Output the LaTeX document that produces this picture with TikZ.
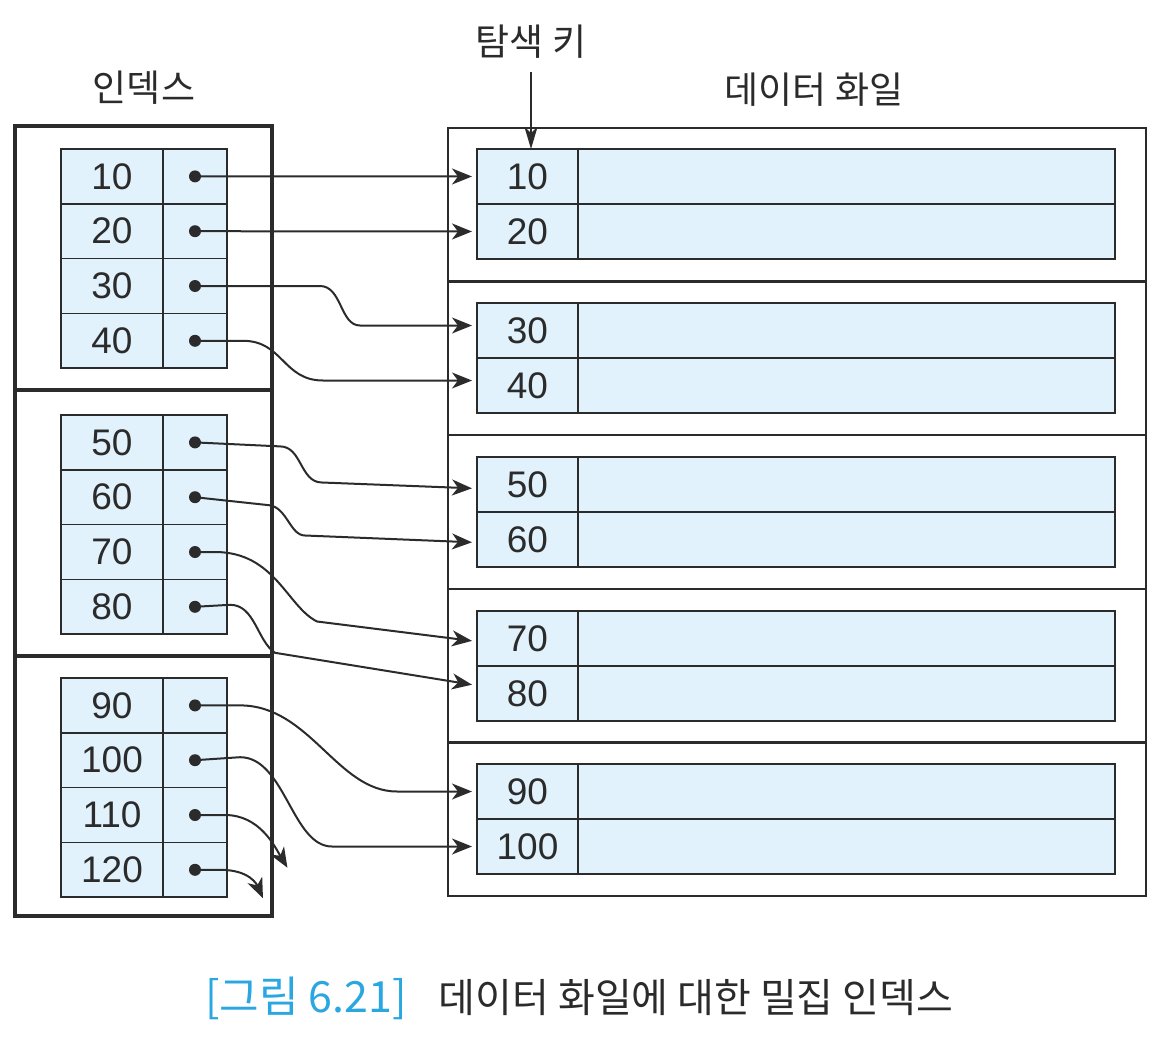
\documentclass[tikz,border=0pt]{standalone}
\usepackage{fontspec}
\setmainfont{Liberation Sans}
\newfontfamily\kr{Noto Sans CJK KR}
\usetikzlibrary{arrows.meta,positioning,calc}
\definecolor{cellfill}{HTML}{E1F2FC}
\definecolor{ink}{HTML}{2B2B2B}
\definecolor{figblue}{HTML}{2AA7E1}
\tikzset{
  keycell/.style={draw=ink, fill=cellfill, line width=0.8pt, inner sep=0pt,
                  outer sep=0pt, minimum height=27.4pt, minimum width=51pt,
                  font=\fontsize{18.5}{18.5}\selectfont, text=ink},
  ptrcell/.style={keycell, minimum width=32pt},
  reckey/.style={keycell, minimum height=27.5pt, minimum width=50.5pt},
  recbody/.style={reckey, minimum width=268.5pt},
  idxblock/.style={draw=ink, line width=2pt, inner sep=0pt, outer sep=0pt,
                   minimum width=128.5pt},
  fileblock/.style={draw=ink, line width=0.9pt, inner sep=0pt, outer sep=0pt,
                    minimum width=349pt, minimum height=77pt},
  heading/.style={font=\kr\fontsize{18.5}{18.5}\selectfont, text=ink},
  caption/.style={font=\kr\fontsize{20}{20}\selectfont},
  ptr/.style={-{Stealth[length=10pt,width=8pt,inset=3pt]}, line width=1pt,
              draw=ink, shorten >=2.5pt},
  keyptr/.style={-{Stealth[length=11pt,width=6.5pt,inset=3pt]}, line width=1pt,
                 draw=ink, shorten <=3pt},
}

\begin{document}
\begin{tikzpicture}[x=0.5pt, y=-0.5pt]
\useasboundingbox (0,0) rectangle (1164,1044);

% ---- index -------------------------------------------------------
\foreach \top/\h [count=\b] in {126/132,390/133,656/130}
  \node[idxblock, minimum height=\h pt, anchor=north west] (ib\b) at (15,\top) {};

\foreach \top [count=\b from 0] in {149,415,678}
  \foreach \r in {0,...,3} {
    \pgfmathtruncatemacro{\k}{10*(4*\b+\r+1)}
    \node[keycell] (ik\k) at (112,\top+27.4+54.8*\r) {\k};
    \node[ptrcell, right=0pt of ik\k] (ip\k) {};
    \fill[ink] (ip\k.center) circle (3pt);
  }

\node[heading] (idxlab) at (144,88) {인덱스};

% ---- data file ---------------------------------------------------
\foreach \top [count=\b] in {128,281,435,589,742}
  \node[fileblock, anchor=north west] (db\b) at (448,\top) {};

\foreach \top [count=\b from 0] in {149,303,457,611,764}
  \foreach \r in {0,1} {
    \pgfmathtruncatemacro{\k}{10*(2*\b+\r+1)}
    \node[reckey] (dk\k) at (527.5,\top+27.5+55*\r) {\k};
    \node[recbody, right=0pt of dk\k] (dv\k) {};
  }

\node[heading] (filelab) at (814,90) {데이터 화일};
\node[heading] (skey) at (531,42) {탐색 키};
\draw[keyptr] (skey.south) -- (skey.south |- dk10.north);

% ---- pointers ----------------------------------------------------
\foreach \k in {10,20} \draw[ptr] (ip\k.center) -- (dk\k.west);
\draw[ptr] (ip30.center) -- ++(125,0) .. controls +(22,0) and +(-20,0)
      .. ($(dk30.west)+(-117,-5)$) -- ($(dk30.west)+(0,-5)$);
\draw[ptr] (ip40.center) -- ++(48,0) .. controls +(40,0) and +(-40,0)
      .. ($(dk40.west)+(-154,-5)$) -- ($(dk40.west)+(0,-5)$);
\draw[ptr] (ip50.center) -- ++(85,4) .. controls +(22,0) and +(-22,0)
      .. ($(dk50.west)+(-155,-2)$) -- ($(dk50.west)+(0,4)$);
\draw[ptr] (ip60.center) -- ++(74,8) .. controls +(18,2) and +(-15,0)
      .. ($(dk60.west)+(-172,-4)$) -- ($(dk60.west)+(0,3)$);
\draw[ptr] (ip70.center) -- ++(20,0) .. controls +(60,0) and +(-30,-15)
      .. ($(dk70.west)+(-160,-17)$) -- ($(dk70.west)+(0,3)$);
\draw[ptr] (ip80.center) -- ++(35,-2) .. controls +(25,0) and +(-18,-12)
      .. ++(45,48) -- ($(dk80.west)+(0,-8)$);
\draw[ptr] (ip90.center) -- ++(45,0) .. controls +(70,0) and +(-60,0)
      .. ($(dk90.west)+(-80,0)$) -- (dk90.west);
\draw[ptr] (ip100.center) -- ++(45,-3) .. controls +(45,0) and +(-40,0)
      .. ($(dk100.west)+(-145,0)$) -- (dk100.west);

\coordinate (e110) at ($(ip110.center)+(95,57)$);
\coordinate (e120) at ($(ip120.center)+(70,33)$);
\draw[ptr] (ip110.center) -- ++(30,0) .. controls +(35,0) and +(-15,-25) .. (e110);
\draw[ptr] (ip120.center) -- ++(25,0) .. controls +(30,0) and +(-8,-18) .. (e120);

% ---- caption -----------------------------------------------------
\node[caption, text=figblue, font=\kr\fontsize{21.5}{21.5}\selectfont] (capnum)
     at (306,998) {[그림 6.21]};
\node[caption, text=ink] (captext) at (696,998) {데이터 화일에 대한 밀집 인덱스};
\end{tikzpicture}
\end{document}
